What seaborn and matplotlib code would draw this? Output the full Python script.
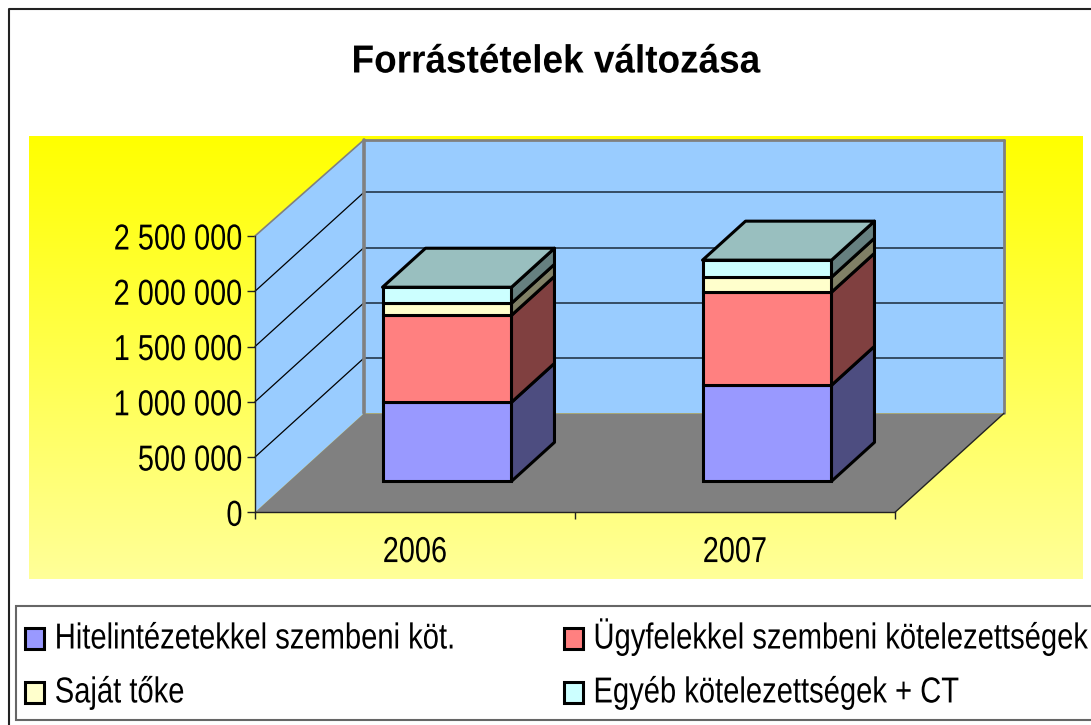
import seaborn as sns
import pandas as pd
import numpy as np
import matplotlib.pyplot as plt
from matplotlib.colors import LinearSegmentedColormap, to_rgb
from matplotlib.lines import Line2D
from matplotlib.patches import Polygon, Rectangle
from matplotlib.patheffects import AbstractPathEffect
from matplotlib.transforms import Affine2D

title = "Forrástételek változása"
years = ["2006", "2007"]
series_names = ["Hitelintézetekkel szembeni köt.", "Ügyfelekkel szembeni kötelezettségek",
                "Saját tőke", "Egyéb kötelezettségek + CT"]
hitel = [715000, 869000]
ugyfel = [787000, 842000]
sajat = [109000, 136000]
egyeb = [145000, 154000]
series_colors = ["#9999FF", "#FF8080", "#FFFFCC", "#CCFFFF"]
y_ticks = [0, 500000, 1000000, 1500000, 2000000, 2500000]
y_labels = ["0", "500 000", "1 000 000", "1 500 000", "2 000 000", "2 500 000"]

W, H = 1091, 725

sns.set_theme(style="white")
plt.rcParams["font.family"] = ["Liberation Sans", "DejaVu Sans"]
plt.rcParams["text.color"] = "black"

fig = plt.figure(figsize=(W / 100, H / 100), dpi=100, facecolor="white")


class Tall(AbstractPathEffect):
    # the reference text is narrower than Arial, no narrow font here:
    # take the size that gives the right width and stretch the glyphs upwards
    def __init__(self, sy, drop=0):
        super().__init__()
        self.sy = sy
        self.drop = drop

    def draw_path(self, renderer, gc, tpath, affine, rgbFace=None):
        t = Affine2D().scale(1, self.sy) + affine + Affine2D().translate(0, -self.drop)
        renderer.draw_path(gc, tpath, t, rgbFace)


def box(x0, y0, x1, y1):
    # pixel box, y from the top of the picture
    return [x0 / W, 1 - y1 / H, (x1 - x0) / W, (y1 - y0) / H]


# yellow gradient behind the plot
bg = fig.add_axes(box(29, 136, 1083, 579), zorder=0)
cmap = LinearSegmentedColormap.from_list("yel", ["#FFFF00", "#FFFF99"])
bg.imshow(np.linspace(0, 1, 256).reshape(-1, 1), aspect="auto", cmap=cmap)
bg.axis("off")

# outer frame, only left and top are in the picture
fig.add_artist(Line2D([9 / W, 9 / W, 1], [0, 1 - 9 / H, 1 - 9 / H], color="#222222", lw=1.5))

# legend frame runs off the right side
fig.add_artist(Rectangle((15.5 / W, 1 - 720 / H), 1090 / W, 114 / H, transform=fig.transFigure,
                         fc="white", ec="#666666", lw=1.5))

ax = fig.add_axes(box(255, 236, 895, 512.3), zorder=1)
ax.patch.set_alpha(0)

df = pd.DataFrame({"year": years, "hitel": hitel, "ugyfel": ugyfel, "sajat": sajat, "egyeb": egyeb})
cols = ["hitel", "ugyfel", "sajat", "egyeb"]
bar_width = 0.403

bottom = np.zeros(len(years))
for c, name, col in zip(cols, series_names, series_colors):
    sns.barplot(data=df, x="year", y=c, bottom=bottom, color=col, saturation=1, width=bar_width,
                edgecolor="black", linewidth=2.2, label=name, ax=ax, zorder=6)
    bottom = bottom + df[c].values

ax.set_xlim(-0.5, 1.5)
ax.set_ylim(0, 2500000)
ax.set_xlabel("")
ax.set_ylabel("")

# 3D look: pixel offsets of the depth planes
FRONT = (0, 0)
WALL = (109, 99)
BAR_FRONT = (32, 31)
BAR_BACK = (75, 70)


def proj(x, y, off):
    px, py = ax.transData.transform((x, y))
    return px + off[0], py + off[1]


def face(points, **kw):
    p = Polygon([proj(*pt) for pt in points], closed=True, transform=None, clip_on=False, **kw)
    ax.add_artist(p)


def edge(a, b, **kw):
    pa, pb = proj(*a), proj(*b)
    ax.add_artist(Line2D([pa[0], pb[0]], [pa[1], pb[1]], transform=None, clip_on=False, **kw))


def shade(col, f):
    return tuple(v * f for v in to_rgb(col))


x0, x1 = ax.get_xlim()
top = y_ticks[-1]
wall_top = 2475000
wall = "#99CCFF"
grey = "#808080"

face([(x0, 0, WALL), (x1, 0, WALL), (x1, wall_top, WALL), (x0, wall_top, WALL)], fc=wall, ec="none", zorder=1)
face([(x0, 0, FRONT), (x0, 0, WALL), (x0, wall_top, WALL), (x0, top, FRONT)], fc=wall, ec="none", zorder=1)
face([(x0, 0, FRONT), (x1, 0, FRONT), (x1, 0, WALL), (x0, 0, WALL)], fc=grey, ec="none", zorder=1)

for t in y_ticks[1:-1]:
    edge((x0, t, FRONT), (x0, t, WALL), color="black", lw=0.9, zorder=2)
    edge((x0, t, WALL), (x1, t, WALL), color="#1a2a3a", lw=1.1, zorder=2)
edge((x0, 0, WALL), (x0, wall_top, WALL), color=grey, lw=2.6, zorder=3)
edge((x0, wall_top, WALL), (x1, wall_top, WALL), color=grey, lw=2, zorder=3)
edge((x1, 0, WALL), (x1, wall_top, WALL), color=grey, lw=2, zorder=3)
edge((x0, top, FRONT), (x0, wall_top, WALL), color=grey, lw=1.2, zorder=3)
edge((x1, 0, FRONT), (x1, 0, WALL), color="#222222", lw=1, zorder=3)

# front faces move onto the floor, side and top faces come from the same bars
shift = Affine2D().translate(*BAR_FRONT)
for container, col in zip(ax.containers, series_colors):
    for rect in container:
        rect.set_transform(ax.transData + shift)
        rect.set_clip_on(False)
        xr = rect.get_x() + rect.get_width()
        yb, yt = rect.get_y(), rect.get_y() + rect.get_height()
        face([(xr, yb, BAR_FRONT), (xr, yb, BAR_BACK), (xr, yt, BAR_BACK), (xr, yt, BAR_FRONT)],
             fc=shade(col, 0.5), ec="black", lw=2.2, zorder=5, joinstyle="round")
for rect in ax.containers[-1]:
    xl, xr = rect.get_x(), rect.get_x() + rect.get_width()
    yt = rect.get_y() + rect.get_height()
    face([(xl, yt, BAR_FRONT), (xr, yt, BAR_FRONT), (xr, yt, BAR_BACK), (xl, yt, BAR_BACK)],
         fc=shade(series_colors[-1], 0.75), ec="black", lw=2.2, zorder=5, joinstyle="round")

sns.despine(ax=ax, top=True, right=True)
for s in ["left", "bottom"]:
    ax.spines[s].set_visible(True)
    ax.spines[s].set_color("#222222")
    ax.spines[s].set_linewidth(1)
    ax.spines[s].set_zorder(4)

ax.set_yticks(y_ticks, y_labels)
ax.set_xticks([-0.5, 0.5, 1.5], ["", "", ""])
ax.set_xticks([0, 1], years, minor=True)
ax.tick_params(axis="y", left=True, length=5.5, width=1, color="#222222", pad=3.5, labelsize=20.8, labelcolor="black")
ax.tick_params(axis="x", which="major", bottom=True, length=5, width=1, color="#222222")
ax.tick_params(axis="x", which="minor", bottom=False, length=0, pad=20, labelsize=20.8, labelcolor="black")
for lab in ax.get_yticklabels():
    lab.set_path_effects([Tall(1.25, 2.5)])
for lab in ax.get_xticklabels(minor=True):
    lab.set_path_effects([Tall(1.25)])

fig.text(556 / W, 1 - 63 / H, title, ha="center", va="center", fontsize=26.6, fontweight="bold",
         path_effects=[Tall(1.06)])

# legend fills column by column, reference reads row by row
handles, labels = ax.get_legend_handles_labels()
order = [0, 2, 1, 3]
leg = ax.legend([handles[i] for i in order], [labels[i] for i in order], ncol=2, loc="upper left",
                bbox_to_anchor=(25 / W, 1 - 623.5 / H), bbox_transform=fig.transFigure,
                borderaxespad=0, fontsize=21, frameon=False, handlelength=0.65, handleheight=0.75,
                handletextpad=0.37, labelspacing=0.89, borderpad=0, columnspacing=3.74)
leg.set_zorder(10)
for t in leg.get_texts():
    t.set_path_effects([Tall(1.238)])

fig.savefig("out.png", dpi=100)
